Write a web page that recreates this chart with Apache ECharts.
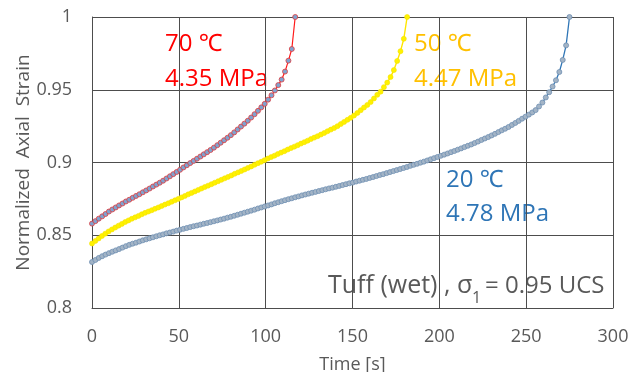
<!DOCTYPE html>
<html>
<head>
<meta charset="utf-8">
<script src="https://cdn.jsdelivr.net/npm/echarts@6/dist/echarts.min.js"></script>
<style>
  html, body { margin: 0; padding: 0; background: #fff; }
  #chart { width: 643px; height: 372px; }
</style>
</head>
<body>
<div id="chart"></div>
<script>
// Creep tests on wet tuff at sigma1 = 0.95 UCS: normalized axial strain vs time.
// Each series is logged at a fixed sampling interval (seconds).

const xTicks = [0, 50, 100, 150, 200, 250, 300];
const yTicks = [0.8, 0.85, 0.9, 0.95, 1];

// 70 °C, 4.35 MPa
const step70 = 1.95;
const strain70 = [
  0.8580, 0.8597, 0.8614, 0.8630, 0.8646, 0.8663, 0.8677, 0.8691, 0.8705, 0.8718,
  0.8732, 0.8744, 0.8757, 0.8770, 0.8782, 0.8795, 0.8808, 0.8821, 0.8835, 0.8848,
  0.8861, 0.8875, 0.8890, 0.8905, 0.8920, 0.8935, 0.8950, 0.8966, 0.8981, 0.8996,
  0.9011, 0.9026, 0.9041, 0.9056, 0.9071, 0.9086, 0.9102, 0.9119, 0.9136, 0.9153,
  0.9170, 0.9188, 0.9207, 0.9227, 0.9247, 0.9267, 0.9287, 0.9309, 0.9332, 0.9355,
  0.9379, 0.9403, 0.9432, 0.9462, 0.9495, 0.9532, 0.9570, 0.9625, 0.9700, 0.9780,
  1.0000
];

// 50 °C, 4.47 MPa
const step50 = 1.91;
const strain50 = [
  0.8443, 0.8461, 0.8478, 0.8495, 0.8511, 0.8526, 0.8540, 0.8553, 0.8566, 0.8578,
  0.8591, 0.8602, 0.8613, 0.8623, 0.8633, 0.8644, 0.8654, 0.8663, 0.8672, 0.8682,
  0.8691, 0.8701, 0.8711, 0.8720, 0.8730, 0.8740, 0.8750, 0.8760, 0.8770, 0.8781,
  0.8791, 0.8801, 0.8811, 0.8821, 0.8831, 0.8841, 0.8851, 0.8861, 0.8871, 0.8881,
  0.8891, 0.8901, 0.8911, 0.8922, 0.8932, 0.8942, 0.8952, 0.8963, 0.8973, 0.8984,
  0.8995, 0.9005, 0.9016, 0.9027, 0.9037, 0.9047, 0.9058, 0.9068, 0.9078, 0.9089,
  0.9099, 0.9109, 0.9119, 0.9130, 0.9140, 0.9150, 0.9161, 0.9171, 0.9181, 0.9192,
  0.9203, 0.9215, 0.9226, 0.9237, 0.9250, 0.9264, 0.9279, 0.9293, 0.9307, 0.9323,
  0.9341, 0.9359, 0.9378, 0.9396, 0.9415, 0.9440, 0.9465, 0.9487, 0.9518, 0.9549,
  0.9587, 0.9635, 0.9698, 0.9765, 0.9850, 1.0000
];

// 20 °C, 4.78 MPa
const step20 = 1.95;
const strain20 = [
  0.8316, 0.8330, 0.8344, 0.8356, 0.8367, 0.8377, 0.8387, 0.8396, 0.8405, 0.8415,
  0.8425, 0.8434, 0.8442, 0.8449, 0.8457, 0.8465, 0.8472, 0.8479, 0.8486, 0.8493,
  0.8500, 0.8506, 0.8513, 0.8519, 0.8525, 0.8532, 0.8538, 0.8544, 0.8550, 0.8556,
  0.8562, 0.8567, 0.8573, 0.8579, 0.8584, 0.8590, 0.8596, 0.8602, 0.8608, 0.8614,
  0.8621, 0.8627, 0.8634, 0.8641, 0.8648, 0.8655, 0.8662, 0.8669, 0.8676, 0.8684,
  0.8691, 0.8698, 0.8705, 0.8712, 0.8720, 0.8727, 0.8734, 0.8741, 0.8748, 0.8754,
  0.8761, 0.8767, 0.8774, 0.8780, 0.8786, 0.8792, 0.8798, 0.8804, 0.8810, 0.8816,
  0.8822, 0.8827, 0.8833, 0.8839, 0.8845, 0.8851, 0.8857, 0.8862, 0.8869, 0.8875,
  0.8881, 0.8887, 0.8894, 0.8900, 0.8907, 0.8914, 0.8920, 0.8927, 0.8934, 0.8941,
  0.8948, 0.8955, 0.8962, 0.8969, 0.8977, 0.8984, 0.8991, 0.8999, 0.9006, 0.9014,
  0.9022, 0.9030, 0.9038, 0.9046, 0.9054, 0.9062, 0.9071, 0.9079, 0.9088, 0.9097,
  0.9106, 0.9115, 0.9124, 0.9134, 0.9144, 0.9155, 0.9165, 0.9175, 0.9186, 0.9197,
  0.9209, 0.9221, 0.9232, 0.9244, 0.9258, 0.9272, 0.9286, 0.9301, 0.9315, 0.9329,
  0.9344, 0.9360, 0.9385, 0.9412, 0.9447, 0.9483, 0.9522, 0.9565, 0.9622, 0.9705,
  0.9805, 1.0000
];

const labels = {
  t70: '70 \u2103', p70: '4.35 MPa',
  t50: '50 \u2103', p50: '4.47 MPa',
  t20: '20 \u2103', p20: '4.78 MPa',
  noteMain: 'Tuff (wet) , \u03C3', noteSub: '1', noteTail: '= 0.95 UCS'
};

function toPoints(values, step) {
  return values.map((v, i) => [Math.round(i * step * 100) / 100, v]);
}

const FONT = '"Open Sans", "Noto Sans", sans-serif';
const AXIS_TEXT = '#595959';
const GRID_LINE = '#4d4d4d';

const chart = echarts.init(document.getElementById('chart'), null, { renderer: 'canvas' });

function note(text, left, top, color, size) {
  return { type: 'text', left: left, top: top, style: { text: text, fill: color, font: size + 'px ' + FONT } };
}

const option = {
  backgroundColor: '#ffffff',
  animation: false,
  grid: { left: 92, right: 30, top: 17, bottom: 64, containLabel: false, outerBoundsMode: 'none' },
  xAxis: {
    type: 'value',
    min: xTicks[0], max: xTicks[xTicks.length - 1], interval: 50,
    name: 'Time [s]', nameLocation: 'middle', nameGap: 48, nameMoveOverlap: false,
    nameTextStyle: { color: AXIS_TEXT, fontFamily: FONT, fontSize: 18 },
    axisLine: { show: true, lineStyle: { color: GRID_LINE, width: 1 } },
    axisTick: { show: false },
    axisLabel: { color: AXIS_TEXT, fontFamily: FONT, fontSize: 18, margin: 20 },
    splitLine: { show: true, lineStyle: { color: GRID_LINE, width: 1 } }
  },
  yAxis: {
    type: 'value',
    min: yTicks[0], max: yTicks[yTicks.length - 1], interval: 0.05,
    name: 'Normalized  Axial  Strain', nameLocation: 'middle', nameGap: 59, nameMoveOverlap: false,
    nameTextStyle: { color: AXIS_TEXT, fontFamily: FONT, fontSize: 19 },
    axisLine: { show: true, lineStyle: { color: GRID_LINE, width: 1 } },
    axisTick: { show: false },
    axisLabel: {
      color: AXIS_TEXT, fontFamily: FONT, fontSize: 18, margin: 20,
      formatter: v => String(+v.toFixed(2))
    },
    splitLine: { show: true, lineStyle: { color: GRID_LINE, width: 1 } }
  },
  series: [
    {
      name: '20', type: 'line', data: toPoints(strain20, step20),
      symbol: 'circle', symbolSize: 5,
      lineStyle: { color: '#2e75b6', width: 1.3 },
      itemStyle: { color: '#a3b4c6', borderColor: '#6f8fb3', borderWidth: 0.8 },
      z: 2
    },
    {
      name: '50', type: 'line', data: toPoints(strain50, step50),
      symbol: 'circle', symbolSize: 5,
      lineStyle: { color: '#ffe600', width: 1.4 },
      itemStyle: { color: '#fff200', borderColor: '#f5e000', borderWidth: 0.6 },
      z: 3
    },
    {
      name: '70', type: 'line', data: toPoints(strain70, step70),
      symbol: 'circle', symbolSize: 5,
      lineStyle: { color: '#ff1a1a', width: 1.2 },
      itemStyle: { color: '#7fa3cf', borderColor: '#e23a3a', borderWidth: 0.8 },
      z: 4
    }
  ],
  graphic: [
    note(labels.t70, 165, 32, '#ff0000', 24),
    note(labels.p70, 165, 67, '#ff0000', 24),
    note(labels.t50, 414, 32, '#ffc000', 24),
    note(labels.p50, 414, 67, '#ffc000', 24),
    note(labels.t20, 446, 168, '#2e75b6', 24),
    note(labels.p20, 446, 202, '#2e75b6', 24),
    note(labels.noteMain, 328, 273, AXIS_TEXT, 25),
    note(labels.noteSub, 472, 290, AXIS_TEXT, 16),
    note(labels.noteTail, 485, 274, AXIS_TEXT, 24)
  ]
};

chart.setOption(option);
</script>
</body>
</html>
